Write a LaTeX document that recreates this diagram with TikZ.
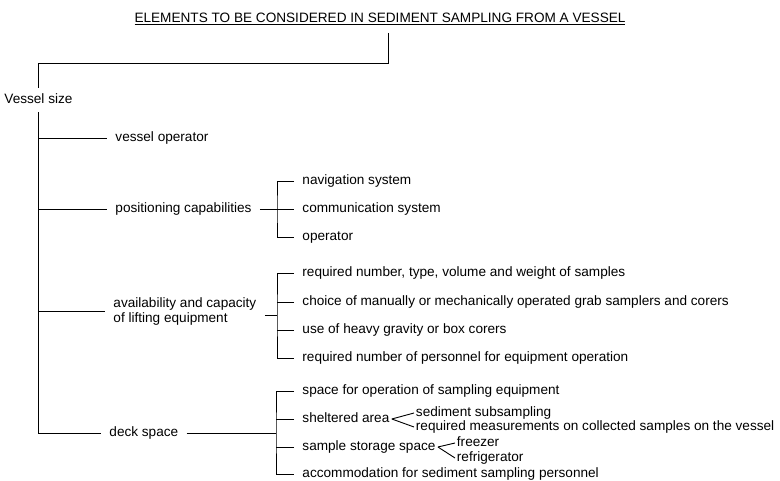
\documentclass[tikz,border=0pt]{standalone}
\usepackage{fontspec}
\setmainfont{Liberation Sans}
\usetikzlibrary{positioning}
\tikzstyle{heading}=[inner sep=0pt]
\tikzstyle{root}=[anchor=west,
inner xsep=0pt,
inner ysep=7pt]
\tikzstyle{topic}=[anchor=west,
inner xsep=8pt,
inner ysep=0pt]
\tikzstyle{detail}=[anchor=west,
inner xsep=1.5pt,
inner ysep=0pt]

\begin{document}
\begin{tikzpicture}[x=1pt,y=-1pt,line width=0.9pt,
	font=\fontsize{13.6}{15}\selectfont,text height=1.5ex,text depth=0.25ex]
	% "text height" and "text depth" keep all one-line labels on the
	% same baseline, whether or not they have descenders.
	\useasboundingbox (0,0) rectangle (780,481);
	
	% Heading and the root of the tree
	\node (title) [heading] at (380,19)
	{\underline{ELEMENTS TO BE CONSIDERED IN SEDIMENT SAMPLING FROM A VESSEL}};
	\coordinate (t_0) at (388,33);
	\node (vessel) [root] at (4,100) {Vessel size};
	
	% First level: what depends on the vessel size
	\node (oper) [topic] at (107,138) {vessel operator};
	\node (pos)  [topic] at (107,209) {positioning capabilities};
	\node (lift) [topic,align=left,text height={},text depth={}] at (105,311)
	{availability and capacity\\of lifting equipment};
	\node (deck) [topic] at (101,433) {deck space};
	
	% Second level: the leaves of each bracket
	\coordinate (pos_b)  at (277,209);
	\coordinate (lift_b) at (277,315);
	\coordinate (deck_b) at (276,433);
	
	\node (nav) [topic] at (294,181) {navigation system};
	\node (com) [topic] at (294,209) {communication system};
	\node (opr) [topic] at (294,237) {operator};
	
	\node (req)    [topic] at (294,273) {required number, type, volume and weight of samples};
	\node (choice) [topic] at (294,302) {choice of manually or mechanically operated grab samplers and corers};
	\node (heavy)  [topic] at (294,330) {use of heavy gravity or box corers};
	\node (pers)   [topic] at (294,358) {required number of personnel for equipment operation};
	
	\node (space)   [topic] at (294,391) {space for operation of sampling equipment};
	\node (shelter) [topic] at (294,419) {sheltered area};
	\node (storage) [topic] at (294,447) {sample storage space};
	\node (accom)   [topic] at (294,474) {accommodation for sediment sampling personnel};
	
	% Third level: the small forks
	\node (subs)   [detail] at (414,413) {sediment subsampling};
	\node (meas)   [detail] at (414,427) {required measurements on collected samples on the vessel};
	\node (freez)  [detail] at (455,443) {freezer};
	\node (fridge) [detail] at (455,458) {refrigerator};
	\coordinate (shelter_r) at ([xshift=-6pt]shelter.east);
	\coordinate (storage_r) at ([xshift=-6pt]storage.east);
	
	% Connectors: heading down to the root, then the trunk
	\draw (t_0) -- ++(0,30) -| (vessel.north);
	\draw (vessel.south) |- (deck.west);
	\draw (vessel.south |- oper.west) -- (oper.west);
	\draw (vessel.south |- pos.west)  -- (pos.west);
	\draw (vessel.south |- lift.west) -- (lift.west);
	
	% positioning bracket
	\draw (pos.east) -- (pos_b);
	\draw (nav.west) -| (pos_b) |- (opr.west);
	\draw (pos_b) -- (com.west);
	
	% lifting equipment bracket
	\draw (lift.east |- lift_b) -- (lift_b);
	\draw (req.west) -| (lift_b) |- (pers.west);
	\draw (choice.west) -- (choice.west -| lift_b);
	\draw (heavy.west)  -- (heavy.west -| lift_b);
	
	% deck space bracket
	\draw (deck.east) -- (deck_b);
	\draw (space.west) -| (deck_b) |- (accom.west);
	\draw (shelter.west) -- (shelter.west -| deck_b);
	\draw (storage.west) -- (storage.west -| deck_b);
	
	% forks
	\draw (shelter_r) -- (subs.west);
	\draw (shelter_r) -- (meas.west);
	\draw (storage_r) -- (freez.west);
	\draw (storage_r) -- (fridge.west);
\end{tikzpicture}
\end{document}
